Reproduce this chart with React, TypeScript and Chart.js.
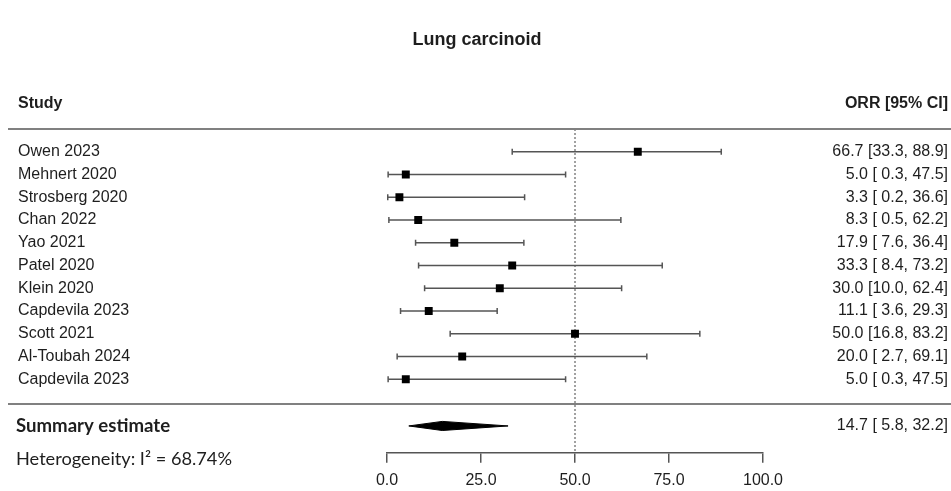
import React, { useEffect, useRef } from "react";
import { Chart, registerables } from "chart.js";

Chart.register(...registerables);

const title = "Lung carcinoid";
const studies = [
  "Owen 2023",
  "Mehnert 2020",
  "Strosberg 2020",
  "Chan 2022",
  "Yao 2021",
  "Patel 2020",
  "Klein 2020",
  "Capdevila 2023",
  "Scott 2021",
  "Al-Toubah 2024",
  "Capdevila 2023",
];
const orr = [66.7, 5.0, 3.3, 8.3, 17.9, 33.3, 30.0, 11.1, 50.0, 20.0, 5.0];
const lower = [33.3, 0.3, 0.2, 0.5, 7.6, 8.4, 10.0, 3.6, 16.8, 2.7, 0.3];
const upper = [88.9, 47.5, 36.6, 62.2, 36.4, 73.2, 62.4, 29.3, 83.2, 69.1, 47.5];
const summaryLabel = "Summary estimate";
const summaryValues = [14.7, 5.8, 32.2]; // estimate, lower, upper
const heterogeneity = "Heterogeneity: I\u00B2 = 68.74%";
const xTicks = [0, 25, 50, 75, 100];
const refValue = 50;

const fmt = (v: number) => v.toFixed(1);
const fmtCI = (e: number, lo: number, hi: number) =>
  `${fmt(e)} [${lo < 10 ? " " : ""}${fmt(lo)}, ${hi < 10 ? " " : ""}${fmt(hi)}]`;

const TEXT = "#1e1e1e";
const LINE = "#555555";
const SANS = "'Liberation Sans', Arial, sans-serif";
const SANS2 = "Lato, 'Open Sans', sans-serif";

const Y_MAX = 14.23;
const SUMMARY_Y = 13.05;
const SEP_Y = 12.1;

export default function App() {
  const ref = useRef<HTMLCanvasElement | null>(null);

  useEffect(() => {
    if (!ref.current) return;

    const ciSets = studies.map((_, i) => ({
      type: "line" as const,
      data: [
        { x: lower[i], y: i + 1 },
        { x: upper[i], y: i + 1 },
      ],
      borderColor: LINE,
      borderWidth: 1.5,
      pointStyle: "line" as const,
      rotation: 90,
      pointRadius: 3,
      pointBorderColor: LINE,
      pointBorderWidth: 1.5,
      fill: false,
      order: 2,
    }));

    const [se, slo, shi] = summaryValues;
    const h = 0.2;

    const textPlugin = {
      id: "forestText",
      afterDraw(chart: any) {
        const ctx = chart.ctx;
        const y = chart.scales.y;
        const W = chart.width;
        ctx.save();
        ctx.fillStyle = TEXT;
        ctx.textBaseline = "middle";

        // title
        ctx.font = `bold 18px ${SANS}`;
        ctx.textAlign = "center";
        ctx.fillText(title, 477, 40);

        // headers
        ctx.font = `bold 16px ${SANS}`;
        ctx.textAlign = "left";
        ctx.fillText("Study", 18, y.getPixelForValue(-1.1));
        ctx.textAlign = "right";
        ctx.fillText("ORR [95% CI]", 948, y.getPixelForValue(-1.1));

        // rows
        ctx.font = `16px ${SANS}`;
        studies.forEach((s, i) => {
          const py = y.getPixelForValue(i + 1);
          ctx.textAlign = "left";
          ctx.fillText(s, 18, py);
          ctx.textAlign = "right";
          ctx.fillText(fmtCI(orr[i], lower[i], upper[i]), 948, py);
        });

        // summary
        const sy = y.getPixelForValue(SUMMARY_Y);
        ctx.textAlign = "right";
        ctx.fillText(fmtCI(se, slo, shi), 948, sy);
        ctx.textAlign = "left";
        ctx.font = `bold 18.6px ${SANS2}`;
        ctx.fillText(summaryLabel, 16, sy);
        ctx.font = `18.2px ${SANS2}`;
        ctx.fillText(heterogeneity, 16, y.getPixelForValue(14.5));

        // separators
        ctx.strokeStyle = "#808080";
        ctx.lineWidth = 2;
        [0, SEP_Y].forEach((v) => {
          const py = Math.round(y.getPixelForValue(v));
          ctx.beginPath();
          ctx.moveTo(8, py);
          ctx.lineTo(W, py);
          ctx.stroke();
        });
        ctx.restore();
      },
    };

    const chart = new Chart(ref.current, {
      type: "line",
      data: {
        datasets: [
          {
            type: "line",
            data: [
              { x: refValue, y: 0 },
              { x: refValue, y: Y_MAX },
            ],
            borderColor: "#444",
            borderWidth: 1,
            borderDash: [2, 2],
            pointRadius: 0,
            fill: false,
            order: 3,
          },
          ...ciSets,
          {
            type: "scatter",
            data: orr.map((v, i) => ({ x: v, y: i + 1 })),
            pointStyle: "rect",
            pointRadius: 5.6,
            backgroundColor: "#000",
            borderColor: "#000",
            borderWidth: 0,
            order: 1,
          },
          {
            type: "line",
            data: [
              { x: slo, y: SUMMARY_Y },
              { x: se, y: SUMMARY_Y - h },
              { x: shi, y: SUMMARY_Y },
              { x: se, y: SUMMARY_Y + h },
              { x: slo, y: SUMMARY_Y },
            ],
            borderColor: "#000",
            borderWidth: 1,
            backgroundColor: "#000",
            pointRadius: 0,
            tension: 0,
            fill: "shape",
            order: 1,
          },
        ] as any,
      },
      options: {
        responsive: false,
        animation: false,
        events: [],
        layout: { padding: { left: 387, right: 188, top: 129, bottom: -7 } },
        plugins: {
          legend: { display: false },
          tooltip: { enabled: false },
          title: { display: false },
        },
        scales: {
          x: {
            type: "linear",
            min: 0,
            max: 100,
            afterBuildTicks: (scale: any) => {
              scale.ticks = xTicks.map((v) => ({ value: v }));
            },
            ticks: {
              autoSkip: false,
              maxRotation: 0,
              padding: 8,
              color: TEXT,
              font: { family: SANS, size: 16 },
              callback: (v: any) => fmt(Number(v)),
            },
            grid: {
              drawOnChartArea: false,
              drawTicks: true,
              tickLength: 10,
              color: LINE,
              lineWidth: 1.5,
            },
            border: { display: true, color: LINE, width: 1.5 },
          },
          y: {
            type: "linear",
            display: false,
            reverse: true,
            min: 0,
            max: Y_MAX,
          },
        },
      },
      plugins: [textPlugin],
    } as any);

    return () => chart.destroy();
  }, []);

  return (
    <div style={{ position: "fixed", left: 0, top: 0, width: 951, height: 491, background: "#fff" }}>
      <canvas ref={ref} width={951} height={491} style={{ display: "block" }} />
    </div>
  );
}
